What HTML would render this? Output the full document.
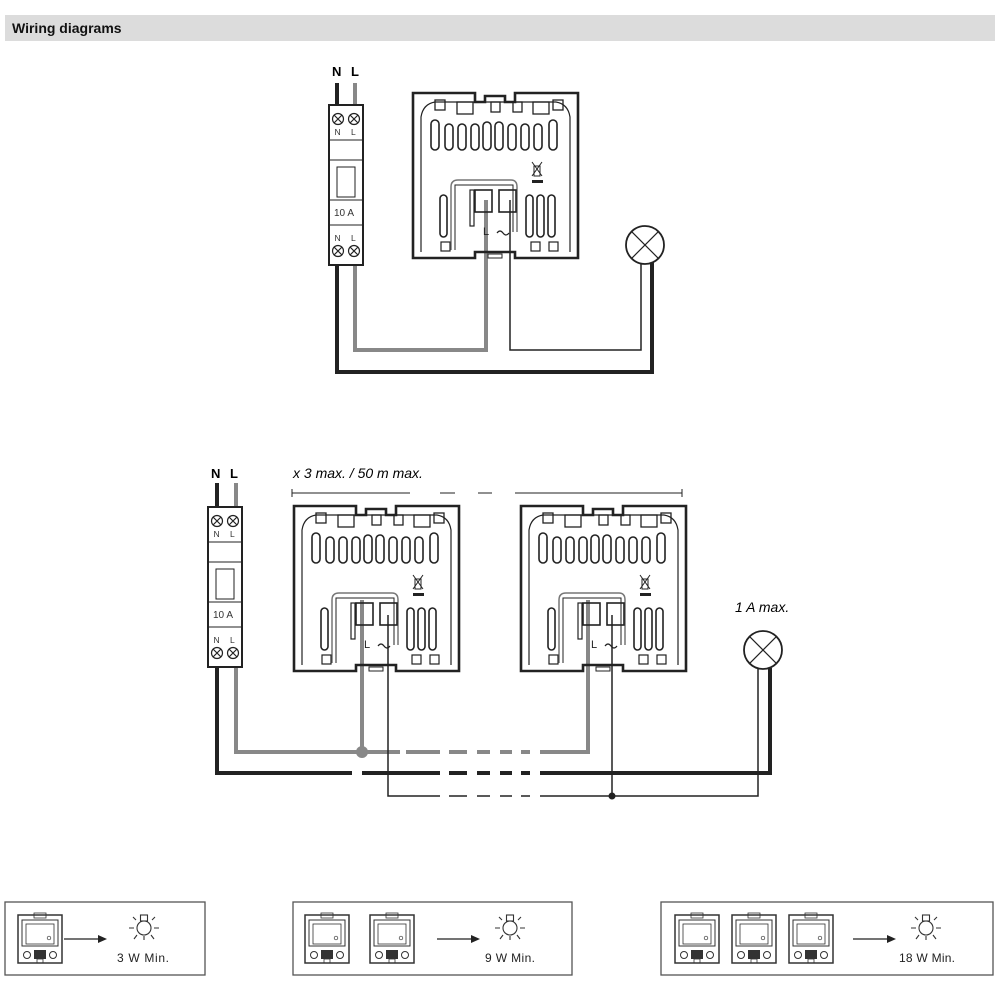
<!DOCTYPE html>
<html><head><meta charset="utf-8"><style>
body{margin:0;background:#fff;width:1000px;height:1000px;overflow:hidden}
svg{display:block}
text{font-family:"Liberation Sans",sans-serif}
</style></head><body>
<svg width="1000" height="1000" viewBox="0 0 1000 1000" xmlns="http://www.w3.org/2000/svg">
<defs>
<g id="dev" fill="none" stroke="#222">
 <path d="M0,1 H62 V10 H72 V4 H92 V10 H102 V1 H165 V166 H102 V160 H62 V166 H0 Z" stroke-width="2.6"/>
 <path d="M8,160 V25 Q10,12 22,10 H143 Q155,12 157,25 V160" stroke-width="1.2"/>
 <g stroke-width="1.3">
  <rect x="22" y="8" width="10" height="10"/><rect x="44" y="10" width="16" height="12"/><rect x="78" y="10" width="9" height="10"/><rect x="100" y="10" width="9" height="10"/><rect x="120" y="10" width="16" height="12"/><rect x="140" y="8" width="10" height="10"/>
 </g>
 <g stroke-width="1.6">
  <rect x="18" y="28" width="8" height="30" rx="4"/><rect x="32" y="32" width="8" height="26" rx="4"/><rect x="45" y="32" width="8" height="26" rx="4"/><rect x="58" y="32" width="8" height="26" rx="4"/><rect x="70" y="30" width="8" height="28" rx="4"/><rect x="82" y="30" width="8" height="28" rx="4"/><rect x="95" y="32" width="8" height="26" rx="4"/><rect x="108" y="32" width="8" height="26" rx="4"/><rect x="121" y="32" width="8" height="26" rx="4"/><rect x="136" y="28" width="8" height="30" rx="4"/>
  <rect x="27" y="103" width="7" height="42" rx="3.5"/>
  <rect x="113" y="103" width="7" height="42" rx="3.5"/><rect x="124" y="103" width="7" height="42" rx="3.5"/><rect x="135" y="103" width="7" height="42" rx="3.5"/>
 </g>
 <path d="M38,158 V95 Q38,88 45,88 H98 Q104,88 104,95 V140" stroke="#777" stroke-width="1.5"/>
 <path d="M42,158 V93 H100 V140" stroke-width="1"/>
 <rect x="62" y="98" width="17" height="22" stroke-width="1.6"/>
 <rect x="86" y="98" width="17" height="22" stroke-width="1.6"/>
 <rect x="57" y="98" width="4" height="36" stroke-width="1.2"/>
 <rect x="28" y="150" width="9" height="9" stroke-width="1.2"/><rect x="118" y="150" width="9" height="9" stroke-width="1.2"/><rect x="136" y="150" width="9" height="9" stroke-width="1.2"/>
 <path d="M119,70 L129,84 M129,70 L119,84 M121,74 H127 V84 H121 Z" stroke-width="1"/>
 <rect x="119" y="88" width="11" height="3" fill="#222" stroke="none"/>
 <rect x="75" y="162" width="14" height="4" stroke-width="1"/>
 <text x="70" y="143" font-size="11" fill="#222" stroke="none">L</text>
 <path d="M84,141 q3,-4 6,0 t6,0" stroke-width="1.2"/>
</g>
<g id="brk" fill="none" stroke="#222">
 <rect x="0" y="0" width="34" height="160" stroke-width="2" fill="#fff"/>
 <line x1="0" y1="35" x2="34" y2="35" stroke-width="1"/>
 <line x1="0" y1="55" x2="34" y2="55" stroke-width="1"/>
 <line x1="0" y1="95" x2="34" y2="95" stroke-width="1"/>
 <line x1="0" y1="120" x2="34" y2="120" stroke-width="1"/>
 <rect x="8" y="62" width="18" height="30" stroke-width="1"/>
 <g stroke-width="1.2">
  <circle cx="9" cy="14" r="5.5"/><path d="M5,10 L13,18 M13,10 L5,18"/>
  <circle cx="25" cy="14" r="5.5"/><path d="M21,10 L29,18 M29,10 L21,18"/>
  <circle cx="9" cy="146" r="5.5"/><path d="M5,142 L13,150 M13,142 L5,150"/>
  <circle cx="25" cy="146" r="5.5"/><path d="M21,142 L29,150 M29,142 L21,150"/>
 </g>
 <g fill="#333" stroke="none" font-size="8.5"><text x="5.5" y="30">N</text><text x="22" y="30">L</text><text x="5.5" y="136">N</text><text x="22" y="136">L</text></g>
 <text x="5" y="111" font-size="10" fill="#333" stroke="none">10 A</text>
</g>
<g id="lamp" fill="none" stroke="#222" stroke-width="1.8">
 <circle cx="0" cy="0" r="19" fill="#fff"/><path d="M-13.4,-13.4 L13.4,13.4 M13.4,-13.4 L-13.4,13.4" stroke-width="1.2"/>
</g>
<g id="mini" fill="none" stroke="#333">
 <rect x="0" y="0" width="44" height="48" stroke-width="1.5"/>
 <rect x="4" y="5" width="36" height="26" stroke-width="1"/>
 <rect x="8" y="9" width="28" height="20" stroke-width="0.8"/>
 <circle cx="31" cy="23" r="1.8" stroke-width="0.7"/>
 <rect x="16" y="-2" width="12" height="5" stroke-width="0.8"/>
 <circle cx="9" cy="40" r="3.5" stroke-width="1"/><circle cx="35" cy="40" r="3.5" stroke-width="1"/>
 <rect x="16" y="35" width="12" height="9" fill="#333" stroke="none"/>
 <rect x="19" y="44" width="6" height="4" stroke-width="0.8"/>
</g>
<g id="bulb" fill="none" stroke="#333" stroke-width="1.1">
 <circle cx="0" cy="0" r="7"/><rect x="-3.5" y="-13" width="7" height="6"/>
 <path d="M-10,0 H-15 M10,0 H15 M-8,-8 L-11,-11 M8,-8 L11,-11 M-7,7 L-10,11 M7,7 L10,11 M0,8 V12"/>
</g>
<g id="arr"><line x1="0" y1="0" x2="36" y2="0" stroke="#222" stroke-width="1.3"/><path d="M34,-4 L43,0 L34,4 Z" fill="#222"/></g>
</defs>

<rect x="5" y="15" width="990" height="26" fill="#dcdcdc"/>
<text x="12" y="33" font-size="14" font-weight="bold" fill="#111">Wiring diagrams</text>

<!-- Diagram 1 -->
<text x="332" y="76" font-size="13" font-weight="bold">N</text>
<text x="351" y="76" font-size="13" font-weight="bold">L</text>
<g fill="none" stroke-linejoin="miter">
 <polyline points="337,83 337,372 652,372 652,262" stroke="#222" stroke-width="4"/>
 <polyline points="355,83 355,350 486,350 486,200" stroke="#888" stroke-width="4"/>
 <polyline points="510,200 510,350 641,350 641,262" stroke="#222" stroke-width="1.5"/>
</g>
<use href="#brk" x="329" y="105"/>
<use href="#dev" x="413" y="92"/>
<use href="#lamp" x="645" y="245"/>

<!-- Diagram 2 -->
<text x="211" y="478" font-size="13" font-weight="bold">N</text>
<text x="230" y="478" font-size="13" font-weight="bold">L</text>
<text x="293" y="478" font-size="14" font-style="italic">x 3 max. / 50 m max.</text>
<text x="735" y="612" font-size="14" font-style="italic">1 A max.</text>
<g fill="none" stroke="#222" stroke-width="1">
 <line x1="292" y1="493" x2="410" y2="493"/><line x1="440" y1="493" x2="455" y2="493"/><line x1="478" y1="493" x2="492" y2="493"/><line x1="515" y1="493" x2="682" y2="493"/>
 <line x1="292" y1="489" x2="292" y2="497"/><line x1="682" y1="489" x2="682" y2="497"/>
</g>
<g fill="none">
 <polyline points="217,483 217,773 352,773" stroke="#222" stroke-width="4"/>
 <line x1="362" y1="773" x2="440" y2="773" stroke="#222" stroke-width="4"/>
 <path d="M449,773 H467 M477,773 H490 M500,773 H512 M521,773 H530" stroke="#222" stroke-width="4"/>
 <polyline points="540,773 770,773 770,668" stroke="#222" stroke-width="4"/>
 <polyline points="236,483 236,752 400,752" stroke="#888" stroke-width="4"/>
 <line x1="362" y1="752" x2="362" y2="600" stroke="#888" stroke-width="4"/>
 <path d="M406,752 H440 M449,752 H467 M477,752 H490 M500,752 H512 M521,752 H530" stroke="#888" stroke-width="4"/>
 <polyline points="540,752 588,752 588,600" stroke="#888" stroke-width="4"/>
 <polyline points="388,615 388,796 440,796" stroke="#222" stroke-width="1.5"/>
 <path d="M449,796 H467 M477,796 H490 M500,796 H512 M521,796 H530" stroke="#222" stroke-width="1.5"/>
 <polyline points="540,796 758,796 758,668" stroke="#222" stroke-width="1.5"/>
 <line x1="612" y1="615" x2="612" y2="796" stroke="#222" stroke-width="1.5"/>
</g>
<circle cx="362" cy="752" r="6" fill="#888"/>
<circle cx="612" cy="796" r="3.5" fill="#222"/>
<use href="#brk" x="208" y="507"/>
<use href="#dev" x="294" y="505"/>
<use href="#dev" x="521" y="505"/>
<use href="#lamp" x="763" y="650"/>

<!-- Bottom boxes -->
<g fill="none" stroke="#555" stroke-width="1.3">
 <rect x="5" y="902" width="200" height="73"/>
 <rect x="293" y="902" width="279" height="73"/>
 <rect x="661" y="902" width="332" height="73"/>
</g>
<use href="#mini" x="18" y="915"/>
<use href="#arr" x="64" y="939"/>
<use href="#bulb" x="144" y="928"/>
<text x="117" y="962" font-size="12" fill="#222" textLength="52">3 W Min.</text>

<use href="#mini" x="305" y="915"/>
<use href="#mini" x="370" y="915"/>
<use href="#arr" x="437" y="939"/>
<use href="#bulb" x="510" y="928"/>
<text x="485" y="962" font-size="12" fill="#222" textLength="50">9 W Min.</text>

<use href="#mini" x="675" y="915"/>
<use href="#mini" x="732" y="915"/>
<use href="#mini" x="789" y="915"/>
<use href="#arr" x="853" y="939"/>
<use href="#bulb" x="926" y="928"/>
<text x="899" y="962" font-size="12" fill="#222" textLength="56">18 W Min.</text>
</svg>
</body></html>
